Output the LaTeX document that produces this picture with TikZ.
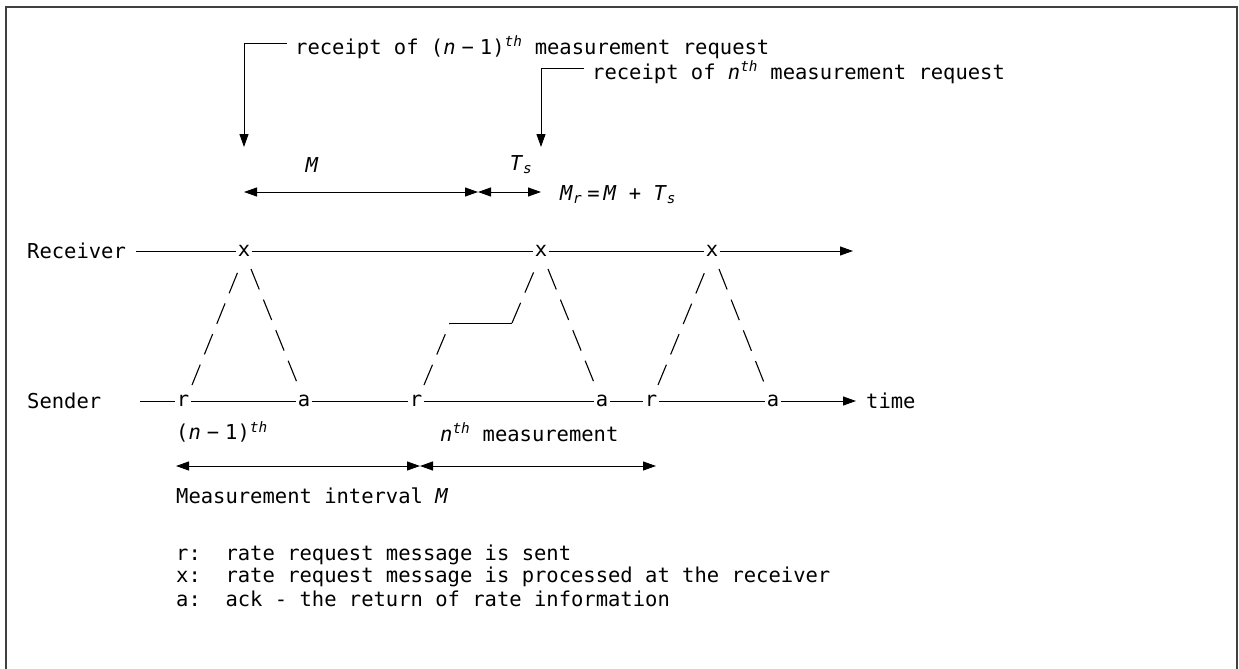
\documentclass[tikz,border=0pt]{standalone}
\usepackage{fontspec}
\newfontfamily\dmono{DejaVu Sans Mono}
\usetikzlibrary{arrows.meta,calc}
\newcommand{\nmo}{(\textit{n}\kern6pt−\kern6pt1)}
\begin{document}
\begin{tikzpicture}[x=1pt,y=-1pt,
  txt/.style={font=\dmono\fontsize{20.5}{23}\selectfont, inner sep=0pt, anchor=west},
  mk/.style={font=\dmono\fontsize{20.5}{23}\selectfont, inner sep=1.2pt},
  ln/.style={line width=1pt},
  dsh/.style={line width=1.1pt, dash pattern=on 22pt off 11pt},
  tip/.style={-{Triangle[length=13pt,width=9pt]}},
  dbl/.style={{Triangle[length=13pt,width=9pt]}-{Triangle[length=13pt,width=9pt]}}
]
\useasboundingbox (0,0) rectangle (1239,669);
\begin{scope}
\clip (0,0) rectangle (1239,669);
\draw[line width=1.5pt, black!75] (6,690) -- (6,7) -- (1237,7) -- (1237,690);
\end{scope}

% top annotations
\node[txt] (t1) at (295,47) {receipt of \nmo\textsuperscript{\textit{th}} measurement request};
\coordinate (h1) at (287,44);
\coordinate (c1) at (244,44);
\coordinate (p1) at (244,147);
\draw[ln,tip] (h1) -- (c1) -- (p1);
\node[txt] (t2) at (592,72) {receipt of \textit{n}\textsuperscript{\textit{th}} measurement request};
\coordinate (h2) at (584,69);
\coordinate (c2) at (541,69);
\coordinate (p2) at (541,147);
\draw[ln,tip] (h2) -- (c2) -- (p2);

\node[txt,anchor=center] (lm) at (312,165) {\textit{M}};
\node[txt,anchor=center] (lts) at (521,165) {\textit{T}\textsubscript{\textit{s}}};
\coordinate (d1) at (244,192);
\coordinate (d2) at (478,192);
\coordinate (d3) at (541,192);
\draw[ln,dbl] (d1) -- (d2);
\draw[ln,dbl] (d2) -- (d3);
\node[txt] (mr) at (560,195) {\textit{M}\textsubscript{\textit{r}}\kern5pt=\kern4pt\textit{M} + \textit{T}\textsubscript{\textit{s}}};

% receiver row
\node[txt] (recv) at (27,251) {Receiver};
\coordinate (rs) at (136,251);
\node[mk] (x1) at (244,251) {x};
\node[mk] (x2) at (541,251) {x};
\node[mk] (x3) at (712,251) {x};
\coordinate (re) at (853,251);
\draw[ln] (rs) -- (x1);
\draw[ln] (x1) -- (x2);
\draw[ln] (x2) -- (x3);
\draw[ln,tip] (x3) -- (re);

% sender row
\node[txt] (send) at (27,401) {Sender};
\coordinate (ss) at (140,401);
\node[mk] (r1) at (183,401) {r};
\node[mk] (a1) at (304,401) {a};
\node[mk] (r2) at (416,401) {r};
\node[mk] (a2) at (602,401) {a};
\node[mk] (r3) at (651,401) {r};
\node[mk] (a3) at (773,401) {a};
\coordinate (se) at (856,401);
\node[txt] (time) at (866,401) {time};
\draw[ln] (ss) -- (r1);
\draw[ln] (r1) -- (a1);
\draw[ln] (a1) -- (r2);
\draw[ln] (r2) -- (a2);
\draw[ln] (a2) -- (r3);
\draw[ln] (r3) -- (a3);
\draw[ln,tip] (a3) -- (se);

% message paths
\draw[dsh] ($(r1)+(9,-16)$) -- ($(x1)+(-5,18)$);
\draw[dsh] ($(x1)+(7,18)$) -- ($(a1)+(-6,-16)$);
\coordinate (s1) at (450,323);
\coordinate (s2) at (512,323);
\draw[dsh] ($(r2)+(8,-16)$) -- (s1);
\draw[ln] (s1) -- (s2);
\draw[dsh] (s2) -- ($(x2)+(-6,18)$);
\draw[dsh] ($(x2)+(7,18)$) -- ($(a2)+(-7,-16)$);
\draw[dsh] ($(r3)+(7,-16)$) -- ($(x3)+(-6,18)$);
\draw[dsh] ($(x3)+(7,18)$) -- ($(a3)+(-8,-16)$);

% measurement labels
\node[txt] (lm1) at (176,432) {\nmo\textsuperscript{\textit{th}}};
\node[txt] (lm2) at (440,432) {\textit{n}\textsuperscript{\textit{th}} measurement};
\coordinate (b1) at (176,466);
\coordinate (b2) at (420,466);
\coordinate (b3) at (656,466);
\draw[ln,dbl] (b1) -- (b2);
\draw[ln,dbl] (b2) -- (b3);
\node[txt] (mi) at (176,496) {Measurement interval \textit{M}};

% legend
\node[txt] (lr) at (176,555) {r:\ \ rate request message is sent};
\node[txt] (lx) at (176,577) {x:\ \ rate request message is processed at the receiver};
\node[txt] (la) at (176,599) {a:\ \ ack - the return of rate information};
\end{tikzpicture}
\end{document}
